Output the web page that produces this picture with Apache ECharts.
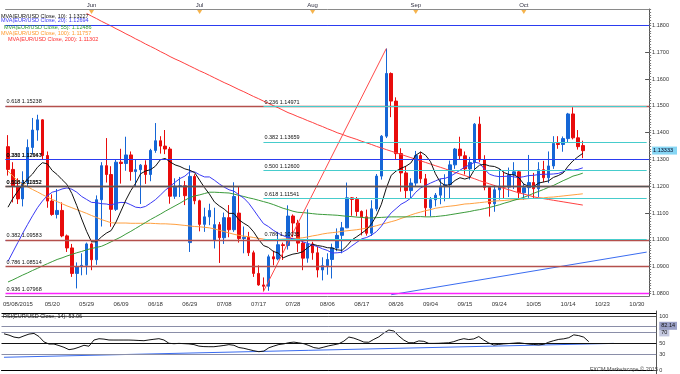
<!DOCTYPE html>
<html><head><meta charset="utf-8">
<script src="https://cdn.jsdelivr.net/npm/echarts@6/dist/echarts.min.js"></script>
<style>html,body{margin:0;padding:0;background:#fff}#c{width:680px;height:374px}</style>
</head><body><div id="c"></div>
<script>
// ---------- data ----------
const dates = ['05/07','05/08','05/11','05/12','05/13','05/14','05/15','05/18','05/19','05/20','05/21','05/22','05/25','05/26','05/27','05/28','05/29',
'06/01','06/02','06/03','06/04','06/05','06/08','06/09','06/10','06/11','06/12','06/15','06/16','06/17','06/18','06/19','06/22','06/23','06/24','06/25','06/26','06/29','06/30',
'07/01','07/02','07/03','07/06','07/07','07/08','07/09','07/10','07/13','07/14','07/15','07/16','07/17','07/20','07/21','07/22','07/23','07/24','07/27','07/28','07/29','07/30','07/31',
'08/03','08/04','08/05','08/06','08/07','08/10','08/11','08/12','08/13','08/14','08/17','08/18','08/19','08/20','08/21','08/24','08/25','08/26','08/27','08/28','08/31',
'09/01','09/02','09/03','09/04','09/07','09/08','09/09','09/10','09/11','09/14','09/15','09/16','09/17','09/18','09/21','09/22','09/23','09/24','09/25','09/28','09/29','09/30',
'10/01','10/02','10/05','10/06','10/07','10/08','10/09','10/12','10/13','10/14','10/15','10/16','10/19'];
const futureDates = ['10/20','10/21','10/22','10/23','10/24','10/25','10/26','10/27','10/28','10/29','10/30','10/31','11/01'];
const tickDates = ['05/08','05/20','05/29','06/09','06/18','06/29','07/08','07/17','07/28','08/06','08/17','08/26','09/04','09/15','09/24','10/05','10/14','10/23','10/30'];
const firstTickYear = '2015';
const monthStarts = ['06/01','07/01','08/03','09/01','10/01'];
const monthNames = ['Jun','Jul','Aug','Sep','Oct'];

const open = [1.1348,1.1263,1.1200,1.1153,1.1215,1.1345,1.1410,1.1448,1.1315,1.1145,
1.1095,1.1110,1.1015,1.0970,1.0875,1.0900,1.0905,1.0985,1.0926,1.1150,
1.1277,1.1244,1.1114,1.1290,1.1285,1.1317,1.1255,1.1262,1.1279,1.1244,
1.1334,1.1370,1.1350,1.1339,1.1163,1.1200,1.1202,1.0990,1.1237,1.1146,
1.1058,1.1086,1.1000,1.1057,1.1008,1.1083,1.1038,1.1100,1.1005,1.1010,
1.0952,1.0875,1.0832,1.0827,1.0937,1.0929,1.0982,1.0979,1.1089,1.1063,
1.0988,1.0932,1.0985,1.0952,1.0888,1.0904,1.0927,1.0970,1.1017,1.1045,
1.1157,1.1151,1.1106,1.1086,1.1025,1.1116,1.1238,1.1387,1.1621,1.1518,
1.1322,1.1250,1.1184,1.1212,1.1315,1.1228,1.1120,1.1150,1.1167,1.1201,
1.1206,1.1280,1.1339,1.1314,1.1265,1.1289,1.1432,1.1299,1.1196,1.1135,
1.1187,1.1200,1.1197,1.1243,1.1254,1.1176,1.1195,1.1214,1.1191,1.1262,
1.1232,1.1276,1.1360,1.1356,1.1378,1.1470,1.1381,1.1352];
const high = [1.1391,1.1290,1.1230,1.1256,1.1375,1.1455,1.1467,1.1450,1.1330,1.1170,
1.1190,1.1140,1.1020,1.0985,1.0916,1.0950,1.0990,1.0990,1.1166,1.1290,
1.1380,1.1275,1.1300,1.1340,1.1385,1.1330,1.1300,1.1283,1.1297,1.1340,
1.1436,1.1387,1.1410,1.1347,1.1230,1.1235,1.1220,1.1278,1.1245,1.1150,
1.1120,1.1135,1.1120,1.1067,1.1102,1.1130,1.1215,1.1200,1.1050,1.1030,
1.0960,1.0905,1.0860,1.0945,1.0960,1.1030,1.0990,1.1129,1.1095,1.1075,
1.0996,1.1114,1.0993,1.0975,1.0935,1.0950,1.0986,1.1043,1.1067,1.1214,
1.1160,1.1160,1.1110,1.1113,1.1148,1.1246,1.1391,1.1714,1.1625,1.1532,
1.1342,1.1276,1.1230,1.1332,1.1329,1.1246,1.1160,1.1175,1.1228,1.1245,
1.1296,1.1343,1.1385,1.1330,1.1310,1.1436,1.1460,1.1316,1.1197,1.1205,
1.1265,1.1255,1.1270,1.1290,1.1260,1.1209,1.1317,1.1250,1.1290,1.1295,
1.1330,1.1387,1.1387,1.1386,1.1474,1.1495,1.1410,1.1370];
const low = [1.1240,1.1140,1.1134,1.1125,1.1200,1.1320,1.1370,1.1300,1.1120,1.1090,
1.1080,1.1010,1.0955,1.0862,1.0819,1.0868,1.0870,1.0887,1.0907,1.1050,
1.1214,1.1049,1.1108,1.1210,1.1258,1.1221,1.1199,1.1134,1.1209,1.1219,
1.1325,1.1322,1.1320,1.1135,1.1153,1.1160,1.1130,1.0955,1.1133,1.1032,
1.1030,1.1055,1.0968,1.0914,1.0985,1.1010,1.1030,1.0990,1.0950,1.0940,
1.0862,1.0829,1.0808,1.0810,1.0905,1.0924,1.0925,1.0964,1.1010,1.0955,
1.0887,1.0915,1.0926,1.0860,1.0849,1.0870,1.0856,1.0958,1.0950,1.1044,
1.1090,1.1088,1.1017,1.1016,1.1015,1.1107,1.1225,1.1380,1.1458,1.1300,
1.1180,1.1155,1.1155,1.1200,1.1212,1.1087,1.1087,1.1125,1.1133,1.1144,
1.1155,1.1265,1.1300,1.1244,1.1225,1.1264,1.1290,1.1185,1.1087,1.1105,
1.1150,1.1155,1.1160,1.1190,1.1150,1.1150,1.1157,1.1154,1.1160,1.1215,
1.1212,1.1265,1.1340,1.1329,1.1365,1.1375,1.1337,1.1305];
const close = [1.1263,1.1200,1.1153,1.1215,1.1345,1.1410,1.1448,1.1315,1.1145,1.1095,
1.1110,1.1015,1.0970,1.0875,1.0900,1.0905,1.0985,1.0926,1.1150,1.1277,
1.1244,1.1114,1.1290,1.1285,1.1317,1.1255,1.1262,1.1279,1.1244,1.1334,
1.1370,1.1350,1.1339,1.1163,1.1200,1.1202,1.1165,1.1237,1.1146,1.1058,
1.1086,1.1110,1.1057,1.1008,1.1083,1.1038,1.1162,1.1005,1.1010,1.0952,
1.0875,1.0832,1.0827,1.0937,1.0929,1.0982,1.0979,1.1089,1.1063,1.0988,
1.0932,1.0985,1.0952,1.0888,1.0904,1.0927,1.0970,1.1017,1.1045,1.1157,
1.1151,1.1106,1.1086,1.1025,1.1116,1.1238,1.1387,1.1621,1.1518,1.1322,
1.1250,1.1184,1.1212,1.1315,1.1228,1.1120,1.1150,1.1167,1.1201,1.1206,
1.1280,1.1339,1.1314,1.1265,1.1289,1.1432,1.1299,1.1196,1.1135,1.1187,
1.1200,1.1197,1.1243,1.1254,1.1176,1.1195,1.1214,1.1191,1.1262,1.1232,
1.1276,1.1360,1.1356,1.1378,1.1470,1.1381,1.1348,1.1333];

const ma10 = [1.1122,1.1155,1.1182,1.1206,1.1228,1.1246,1.1271,1.1288,1.1284,1.1259,
1.1244,1.1225,1.1207,1.1173,1.1128,1.1078,1.1032,1.0993,1.0993,1.1011,
1.1025,1.1035,1.1067,1.1108,1.1149,1.1184,1.1212,1.1247,1.1257,1.1262,
1.1275,1.1299,1.1304,1.1291,1.1280,1.1274,1.1265,1.1260,1.1251,1.1223,
1.1195,1.1171,1.1142,1.1127,1.1115,1.1099,1.1099,1.1075,1.1062,1.1051,
1.1030,1.1002,1.0979,1.0972,1.0957,1.0951,1.0933,1.0941,1.0947,1.0950,
1.0956,1.0971,1.0984,1.0979,1.0976,1.0971,1.0970,1.0963,1.0961,1.0978,
1.1000,1.1012,1.1025,1.1039,1.1060,1.1091,1.1133,1.1193,1.1241,1.1257,
1.1267,1.1275,1.1287,1.1316,1.1328,1.1316,1.1292,1.1247,1.1215,1.1203,
1.1206,1.1222,1.1232,1.1227,1.1233,1.1264,1.1279,1.1282,1.1276,1.1274,
1.1266,1.1251,1.1244,1.1243,1.1232,1.1208,1.1200,1.1199,1.1212,1.1216,
1.1220,1.1233,1.1240,1.1250,1.1275,1.1295,1.1310,1.1323];
const ma20 = [1.0920,1.0955,1.0990,1.1025,1.1058,1.1090,1.1120,1.1145,1.1165,1.1178,
1.1183,1.1190,1.1194,1.1189,1.1178,1.1162,1.1151,1.1140,1.1139,1.1135,
1.1134,1.1130,1.1137,1.1140,1.1139,1.1131,1.1122,1.1120,1.1125,1.1137,
1.1150,1.1167,1.1185,1.1200,1.1215,1.1229,1.1238,1.1254,1.1254,1.1243,
1.1235,1.1235,1.1223,1.1209,1.1197,1.1187,1.1182,1.1168,1.1156,1.1137,
1.1112,1.1086,1.1061,1.1050,1.1036,1.1025,1.1016,1.1008,1.1004,1.1001,
1.0993,1.0987,1.0981,1.0975,1.0967,1.0961,1.0951,1.0952,1.0954,1.0964,
1.0978,1.0991,1.1004,1.1009,1.1018,1.1031,1.1051,1.1078,1.1101,1.1117,
1.1133,1.1143,1.1156,1.1178,1.1194,1.1203,1.1212,1.1220,1.1228,1.1230,
1.1237,1.1248,1.1260,1.1272,1.1280,1.1290,1.1286,1.1264,1.1245,1.1239,
1.1236,1.1237,1.1238,1.1235,1.1233,1.1236,1.1240,1.1241,1.1244,1.1245,
1.1245,1.1246,1.1248,1.1254,1.1263,1.1260,1.1263,1.1269];
const ma55 = [1.0843,1.0851,1.0860,1.0869,1.0877,1.0886,1.0894,1.0903,1.0911,1.0919,
1.0927,1.0933,1.0940,1.0946,1.0952,1.0957,1.0963,1.0968,1.0972,1.0976,
1.0984,1.0993,1.1002,1.1011,1.1022,1.1032,1.1043,1.1054,1.1065,1.1076,
1.1086,1.1096,1.1107,1.1117,1.1127,1.1137,1.1148,1.1158,1.1164,1.1168,
1.1173,1.1178,1.1178,1.1177,1.1176,1.1175,1.1171,1.1166,1.1162,1.1157,
1.1153,1.1148,1.1143,1.1138,1.1132,1.1125,1.1118,1.1113,1.1107,1.1103,
1.1102,1.1100,1.1098,1.1096,1.1095,1.1094,1.1093,1.1092,1.1090,1.1088,
1.1087,1.1085,1.1084,1.1082,1.1082,1.1083,1.1084,1.1085,1.1086,1.1086,
1.1086,1.1086,1.1086,1.1087,1.1087,1.1086,1.1086,1.1087,1.1089,1.1091,
1.1094,1.1097,1.1100,1.1103,1.1106,1.1110,1.1113,1.1117,1.1121,1.1126,
1.1131,1.1137,1.1142,1.1148,1.1153,1.1159,1.1166,1.1174,1.1181,1.1188,
1.1196,1.1203,1.1212,1.1221,1.1229,1.1238,1.1243,1.1249];
const ma100 = [1.1257,1.1238,1.1220,1.1208,1.1198,1.1188,1.1179,1.1169,1.1160,1.1151,
1.1143,1.1135,1.1127,1.1120,1.1113,1.1106,1.1099,1.1091,1.1084,1.1076,
1.1070,1.1064,1.1063,1.1063,1.1063,1.1062,1.1062,1.1062,1.1062,1.1062,
1.1061,1.1060,1.1060,1.1059,1.1058,1.1056,1.1054,1.1052,1.1050,1.1049,
1.1047,1.1045,1.1041,1.1036,1.1031,1.1026,1.1021,1.1017,1.1014,1.1012,
1.1009,1.1006,1.1003,1.1000,1.1000,1.1002,1.1003,1.1004,1.1005,1.1006,
1.1008,1.1011,1.1015,1.1018,1.1022,1.1025,1.1027,1.1029,1.1032,1.1034,
1.1036,1.1038,1.1041,1.1044,1.1048,1.1053,1.1058,1.1063,1.1068,1.1073,
1.1080,1.1086,1.1093,1.1099,1.1104,1.1109,1.1113,1.1118,1.1121,1.1124,
1.1126,1.1128,1.1131,1.1134,1.1135,1.1137,1.1139,1.1141,1.1143,1.1145,
1.1146,1.1147,1.1149,1.1150,1.1151,1.1152,1.1154,1.1155,1.1156,1.1157,
1.1159,1.1160,1.1162,1.1164,1.1166,1.1168,1.1170,1.1172];
const ma200 = [null,null,null,null,null,null,null,null,null,null,null,null,null,null,null,null,
1.1845,1.1835,1.1826,1.1816,1.1807,1.1798,1.1788,1.1779,1.1769,1.1760,
1.1750,1.1741,1.1731,1.1722,1.1713,1.1703,1.1694,1.1684,1.1675,1.1667,
1.1658,1.1649,1.1640,1.1631,1.1623,1.1614,1.1605,1.1596,1.1587,1.1579,
1.1570,1.1561,1.1553,1.1544,1.1535,1.1527,1.1518,1.1510,1.1501,1.1493,
1.1484,1.1475,1.1468,1.1460,1.1453,1.1445,1.1438,1.1430,1.1423,1.1415,
1.1408,1.1400,1.1394,1.1387,1.1381,1.1375,1.1368,1.1362,1.1356,1.1349,
1.1343,1.1337,1.1331,1.1325,1.1319,1.1313,1.1307,1.1301,1.1295,1.1289,
1.1283,1.1277,1.1271,1.1265,1.1258,1.1252,1.1246,1.1240,1.1234,1.1228,
1.1221,1.1215,1.1209,1.1203,1.1197,1.1192,1.1187,1.1181,1.1176,1.1171,
1.1166,1.1161,1.1157,1.1154,1.1151,1.1148,1.1145,1.1142,1.1139,1.1136,
1.1133,1.1130];
const maLegend = [['MVA(EUR/USD Close, 10): 1.13227'],['MVA(EUR/USD Close, 20): 1.12694'],['MVA(EUR/USD Close, 55): 1.12486'],['MVA(EUR/USD Close, 100): 1.11757'],['MVA(EUR/USD Close, 200): 1.11302']];

const rsi = [67.5,65.1,61.5,60.1,63.7,67.0,68.2,62.5,52.7,48.8,
48.8,46.0,42.8,38.5,40.0,43.0,46.5,44.8,56.1,58.5,
57.8,56.2,56.1,56.1,56.1,56.1,55.8,55.3,54.9,56.3,
57.5,58.6,56.2,50.2,49.4,50.0,49.5,49.0,47.8,45.0,
44.1,43.9,43.9,45.0,46.2,47.7,46.5,42.4,41.0,38.7,
36.5,34.8,35.9,42.0,45.1,47.9,49.1,51.3,52.3,51.0,
49.4,46.1,42.3,40.9,43.2,45.6,47.4,49.4,54.1,61.6,
59.6,56.2,52.4,52.1,57.4,61.9,69.0,74.4,72.6,63.5,
56.0,51.2,51.2,54.5,53.7,50.0,50.0,50.2,50.7,51.1,
53.2,56.4,58.6,57.0,58.2,62.5,56.0,50.7,47.0,48.1,
49.1,49.7,50.4,51.1,50.0,48.7,48.0,47.3,48.3,52.2,
55.0,57.3,58.3,60.4,65.6,64.2,61.4,53.1];
const rsiTitle = 'RSI(EUR/USD Close, 14): 53.06';
const rsiLevels = [100, 82.14, 70, 50, 30];
const rsiAxisLabels = [0, 30, 50, 70, 82.14, 100];

const lastPrice = 1.13333;
const priceTicks = [1.08,1.09,1.10,1.11,1.12,1.13,1.14,1.15,1.16,1.17,1.18];

// horizontal levels
const levelsBlue = [1.18112, 1.17664, 1.15164, 1.12947, 1.12663, 1.09583];
const levelsBrown = [1.15238, 1.11852, 1.09679, 1.08514];
const levelsGray = [1.12152];
const levelsMagenta = [1.07968];
const levelTags = {1.15238:'0.618', 1.12947:'0.236', 1.12663:'0.382', 1.12152:'0.500', 1.11852:'0.618', 1.09583:'0.382', 1.08514:'0.786', 1.07968:'0.936'};
const fibStart = 52, fibEnd = 130;
const fibRightValues = [1.14971, 1.13659, 1.12600, 1.11541, 1.10035];
const fibRightRatios = ['0.236', '0.382', '0.500', '0.618', '0.786'];

// trend lines [categoryIndex, value]
const redTrend = [[52, 1.0808], [77, 1.1714]];
const blueTrend = [[78, 1.07955], [130, 1.09545]];
const rsiTrend = [[0, 24.6], [122, 50]];

// ---------- chart ----------
const cats = dates.concat(futureDates);
const candleData = dates.map((d, i) => [open[i], close[i], low[i], high[i]]);
const Y_MIN = 1.07907, Y_MAX = 1.18616;
const tickSet = new Set(tickDates);
const FONT = 'Liberation Sans';
const minorTicks = [];
for (let k = 1080; k <= 1186; k++) minorTicks.push(k / 1000);

function hLines(vals, color, width) {
  return vals.map(v => {
    const tag = levelTags[v];
    return {
      yAxis: v,
      lineStyle: { color: color, width: width, type: 'solid' },
      label: tag ? { show: true, formatter: tag + ' ' + v.toFixed(5) } : { show: false }
    };
  });
}
const mainLines = [].concat(
  hLines(levelsBlue, '#2b3cf0', 1),
  hLines(levelsBrown, '#b4504c', 1.3),
  hLines(levelsGray, '#555555', 1.3),
  hLines(levelsMagenta, '#ff22ff', 1.3)
);
const fibLines = fibRightValues.map((v, i) => [
  { coord: [fibStart, v], lineStyle: { color: '#46cccc', width: 1, type: 'solid' },
    label: { show: true, formatter: fibRightRatios[i] + ' ' + v.toFixed(5) } },
  { coord: [fibEnd, v] }
]);

const option = {
  animation: false,
  backgroundColor: '#ffffff',
  grid: [
    { left: 1.5, width: 655, top: 9, height: 287 },
    { left: 1.5, width: 655, top: 311, height: 63 }
  ],
  xAxis: [
    { type: 'category', data: cats, gridIndex: 0, position: 'bottom', boundaryGap: true,
      axisLine: { lineStyle: { color: '#7a7a7a' } },
      axisTick: { interval: (i, v) => tickSet.has(v), length: 4, lineStyle: { color: '#7a7a7a' } },
      axisLabel: { interval: (i, v) => tickSet.has(v), fontSize: 6, fontFamily: FONT, color: '#333', margin: 5,
        formatter: v => v === tickDates[0] ? '{f|' + v + '/' + firstTickYear + '}' : v,
        rich: { f: { fontSize: 6, fontFamily: FONT, color: '#333', padding: [0, 0, 0, 10] } } },
      splitLine: { show: false } },
    { type: 'category', data: cats, gridIndex: 0, position: 'bottom', boundaryGap: true,
      axisLine: { show: false },
      axisTick: { interval: 0, length: 2, lineStyle: { color: '#7a7a7a' } },
      axisLabel: { show: false }, splitLine: { show: false } },
    { type: 'category', data: cats, gridIndex: 0, position: 'top', boundaryGap: true,
      axisLine: { lineStyle: { color: '#8a8a8a' } },
      axisTick: { interval: 2, length: 2, inside: true, lineStyle: { color: '#8a8a8a' } },
      axisLabel: { interval: (i, v) => monthStarts.indexOf(v) >= 0, fontSize: 6, fontFamily: FONT, color: '#334', margin: 1,
        formatter: v => monthNames[monthStarts.indexOf(v)] || '' },
      splitLine: { show: false } },
    { type: 'category', data: cats, gridIndex: 1, position: 'top', boundaryGap: true,
      axisLine: { lineStyle: { color: '#000', width: 1 } },
      axisTick: { show: false }, axisLabel: { show: false }, splitLine: { show: false } }
  ],
  yAxis: [
    { type: 'value', gridIndex: 0, position: 'right', min: Y_MIN, max: Y_MAX,
      axisLine: { show: true, lineStyle: { color: '#555' } },
      axisTick: { show: true, customValues: priceTicks, inside: true, length: 4, lineStyle: { color: '#555' } },
      axisLabel: { customValues: priceTicks.concat([lastPrice]), fontSize: 5.5, fontFamily: FONT, color: '#333', margin: 3,
        formatter: v => Math.abs(v - lastPrice) < 1e-7 ? '{hl|' + lastPrice.toFixed(5) + '}' : v.toFixed(4),
        rich: { hl: { backgroundColor: '#86d6f4', color: '#002', fontSize: 5.5, fontFamily: FONT, padding: [1, 4, 1, 1] } } },
      splitLine: { show: false } },
    { type: 'value', gridIndex: 0, position: 'right', min: Y_MIN, max: Y_MAX,
      axisLine: { show: false },
      axisTick: { show: true, customValues: minorTicks, length: 2, lineStyle: { color: '#777' } },
      axisLabel: { show: false }, splitLine: { show: false } },
    { type: 'value', gridIndex: 1, position: 'right', min: -6, max: 109.2,
      axisLine: { show: true, lineStyle: { color: '#555' } },
      axisTick: { show: true, customValues: [0, 30, 50, 70, 100], length: 3, inside: true, lineStyle: { color: '#555' } },
      axisLabel: { customValues: rsiAxisLabels, fontSize: 5.5, fontFamily: FONT, color: '#333', margin: 3,
        formatter: v => v === 82.14 ? '{b|82.14}' : (v === 70 ? '{c|70}' : String(v)),
        rich: { b: { backgroundColor: '#9aa0c6', color: '#111', fontSize: 5.5, fontFamily: FONT, padding: [1, 2] },
                c: { backgroundColor: '#c3c7de', color: '#111', fontSize: 5.5, fontFamily: FONT, padding: [1, 2] } } },
      splitLine: { show: false } }
  ],
  series: [
    { name: 'levels', type: 'line', xAxisIndex: 0, yAxisIndex: 0, data: [], z: 1,
      markLine: { silent: true, symbol: ['none', 'none'], animation: false,
        label: { position: 'insideStartTop', distance: 1, fontSize: 5.5, fontFamily: FONT, color: '#111' },
        data: mainLines.concat(fibLines) } },
    { name: 'EUR/USD', type: 'candlestick', xAxisIndex: 0, yAxisIndex: 0, data: candleData, barWidth: 3, z: 2,
      itemStyle: { color: '#1566d6', color0: '#e80c0c', borderColor: '#1566d6', borderColor0: '#e80c0c', borderWidth: 1 } },
    { name: 'MA100', type: 'line', data: ma100, showSymbol: false, z: 3, lineStyle: { color: '#ffa040', width: 1 } },
    { name: 'MA55', type: 'line', data: ma55, showSymbol: false, z: 3, lineStyle: { color: '#3b9b3b', width: 1 } },
    { name: 'MA200', type: 'line', data: ma200, showSymbol: false, z: 3, lineStyle: { color: '#ff4040', width: 1 } },
    { name: 'MA20', type: 'line', data: ma20, showSymbol: false, z: 3, lineStyle: { color: '#3a3af5', width: 1 } },
    { name: 'MA10', type: 'line', data: ma10, showSymbol: false, z: 3, lineStyle: { color: '#111', width: 1 } },
    { name: 'redTrend', type: 'line', data: redTrend, showSymbol: false, z: 4, lineStyle: { color: '#ff4a4a', width: 1 } },
    { name: 'blueTrend', type: 'line', data: blueTrend, showSymbol: false, z: 4, lineStyle: { color: '#3a6cf0', width: 1 } },
    { name: 'months', type: 'scatter', xAxisIndex: 0, yAxisIndex: 0, clip: false,
      data: monthStarts.map(d => [d, Y_MAX]), symbol: 'triangle', symbolRotate: 180, symbolSize: [5, 4],
      symbolOffset: [0, 3], itemStyle: { color: '#f2a020' }, z: 6 },
    { name: 'RSI levels', type: 'line', xAxisIndex: 3, yAxisIndex: 2, data: [], z: 1,
      markLine: { silent: true, symbol: ['none', 'none'], label: { show: false },
        data: rsiLevels.map(v => ({ yAxis: v, lineStyle: { type: 'solid', width: 1, color: v === 50 ? '#111' : (v === 100 ? '#555' : '#8a8ea8') } }))
          .concat([{ yAxis: 104.6, lineStyle: { type: 'solid', width: 1, color: '#000' } }]) } },
    { name: 'RSI', type: 'line', xAxisIndex: 3, yAxisIndex: 2, data: rsi, showSymbol: false, z: 3, lineStyle: { color: '#111', width: 1 } },
    { name: 'RSI trend', type: 'line', xAxisIndex: 3, yAxisIndex: 2, data: rsiTrend, showSymbol: false, z: 2, lineStyle: { color: '#3a6cf0', width: 1 } }
  ],
  graphic: [
    { type: 'text', left: 1, top: 13, z: 10, style: { text: maLegend[0][0], fill: '#111', font: '5.5px "Liberation Sans"' } },
    { type: 'text', left: 1, top: 17.5, z: 10, style: { text: maLegend[1][0], fill: '#3a3af5', font: '5.5px "Liberation Sans"' } },
    { type: 'text', left: 4, top: 24.5, z: 10, style: { text: maLegend[2][0], fill: '#2f9a2f', font: '5.5px "Liberation Sans"' } },
    { type: 'text', left: 1, top: 30.5, z: 10, style: { text: maLegend[3][0], fill: '#ff9a30', font: '5.5px "Liberation Sans"' } },
    { type: 'text', left: 8, top: 36, z: 10, style: { text: maLegend[4][0], fill: '#ff3030', font: '5.5px "Liberation Sans"' } },
    { type: 'text', left: 3, top: 313, z: 10, style: { text: rsiTitle, fill: '#111', font: '5.5px "Liberation Sans"' } },
    { type: 'text', left: 590, top: 366, z: 10, style: { text: 'FXCM Marketscope © 2015', fill: '#444', font: '5.5px "Liberation Sans"' } }
  ]
};
const chart = echarts.init(document.getElementById('c'));
chart.setOption(option);
</script></body></html>
